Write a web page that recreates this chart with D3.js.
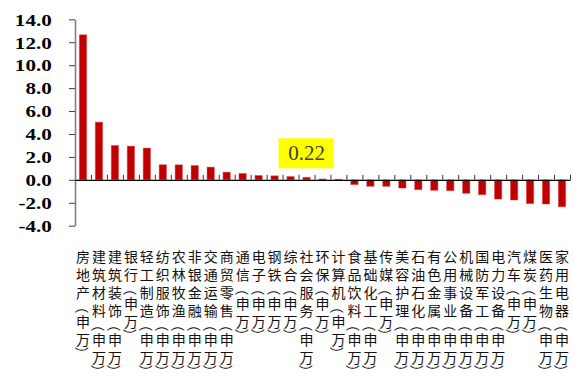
<!DOCTYPE html>
<html>
<head>
<meta charset="utf-8">
<script src="https://cdn.jsdelivr.net/npm/d3@7"></script>
<style>
  body { margin: 0; background: #fff; }
  .ylab text { font-family: "Liberation Serif", "Times New Roman", serif; font-weight: bold; font-size: 17px; fill: #000; }
  .cat { font-family: "Noto Sans CJK SC", sans-serif; font-size: 14px; fill: #111; }
</style>
</head>
<body>
<svg id="chart"></svg>
<script>
const categories = ["房地产", "建筑材料", "建筑装饰", "银行", "轻工制造", "纺织服饰", "农林牧渔", "非银金融",
  "交通运输", "商贸零售", "通信", "电子", "钢铁", "综合", "社会服务", "环保", "计算机", "食品饮料",
  "基础化工", "传媒", "美容护理", "石油石化", "有色金属", "公用事业", "机械设备", "国防军工",
  "电力设备", "汽车", "煤炭", "医药生物", "家用电器"];
const values = [12.65, 5.03, 3.0, 2.94, 2.77, 1.32, 1.31, 1.25, 1.11, 0.67, 0.56, 0.38, 0.35, 0.29, 0.22,
  0.08, 0.05, -0.42, -0.57, -0.57, -0.72, -0.86, -0.92, -0.95, -1.18, -1.30, -1.68, -1.76, -2.08, -2.11, -2.35];
const yTicks = [-4, -2, 0, 2, 4, 6, 8, 10, 12, 14];
const suffix = "（申万）";
const highlight = { name: "社会服务", text: "0.22" };

const width = 573, height = 372;
const left = 75, right = 570;

const svg = d3.select("#chart").attr("width", width).attr("height", height);

const x = d3.scaleBand().domain(categories).range([left, right]).paddingInner(0.54).paddingOuter(0.27);
const y = d3.scaleLinear().domain([-4, 14]).range([225.7, 19.3]);

// bars
svg.append("g")
  .selectAll("rect")
  .data(categories)
  .enter()
  .append("rect")
  .attr("x", (d) => x(d))
  .attr("width", x.bandwidth())
  .attr("y", (d, i) => y(Math.max(0, values[i])))
  .attr("height", (d, i) => Math.abs(y(values[i]) - y(0)))
  .attr("fill", "#c00000")
  .attr("stroke", "rgba(220,80,80,0.45)")
  .attr("stroke-width", 1);

// y axis
const yAxis = svg.append("g")
  .attr("class", "ylab")
  .attr("transform", `translate(${left}, 0)`)
  .call(d3.axisLeft(y).tickValues(yTicks).tickSize(6).tickSizeOuter(0).tickFormat((d) => d.toFixed(1)));
yAxis.select(".domain").attr("stroke", "#808080").attr("stroke-width", 1.6);
yAxis.selectAll(".tick line").attr("stroke", "#404040");
yAxis.selectAll(".tick text")
  .attr("transform", "scale(1.24,1)")
  .attr("x", -23.3 / 1.24)
  .attr("dy", "0.34em");

// x axis at zero, ticks between categories pointing up
const xb = d3.scaleLinear().domain([0, categories.length]).range([left, right]);
const xAxis = svg.append("g")
  .attr("transform", `translate(0, ${y(0)})`)
  .call(d3.axisTop(xb).tickValues(d3.range(1, categories.length + 1)).tickSize(5).tickSizeOuter(0).tickFormat(""));
xAxis.select(".domain").attr("stroke", "#000").attr("stroke-width", 1.2);
xAxis.selectAll(".tick line").attr("stroke", "#333");

// vertical category labels, brackets turned sideways
const labels = svg.append("g");
categories.forEach((name) => {
  const cx = x(name) + x.bandwidth() / 2;
  let cursor = 247;
  for (const ch of name + suffix) {
    const paren = ch === "（" || ch === "）";
    const adv = paren ? 11 : 18;
    const cy = cursor + adv / 2;
    const t = labels.append("text")
      .attr("class", "cat")
      .attr("x", cx)
      .attr("y", cy)
      .attr("text-anchor", "middle")
      .attr("dominant-baseline", "central")
      .text(ch);
    if (paren) t.attr("transform", `rotate(90, ${cx}, ${cy})`);
    cursor += adv;
  }
});

// highlighted data label
const hi = categories.indexOf(highlight.name);
const hx = x(highlight.name) + x.bandwidth() / 2;
const hy = y(values[hi]) - 24;
svg.append("rect")
  .attr("x", hx - 28).attr("y", hy - 15)
  .attr("width", 55).attr("height", 30)
  .attr("fill", "#ffff00");
svg.append("text")
  .attr("x", hx).attr("y", hy + 7)
  .attr("text-anchor", "middle")
  .style("font-family", "'Liberation Serif', 'Times New Roman', serif")
  .style("font-size", "21px")
  .attr("fill", "#404040")
  .text(highlight.text);
</script>
</body>
</html>
